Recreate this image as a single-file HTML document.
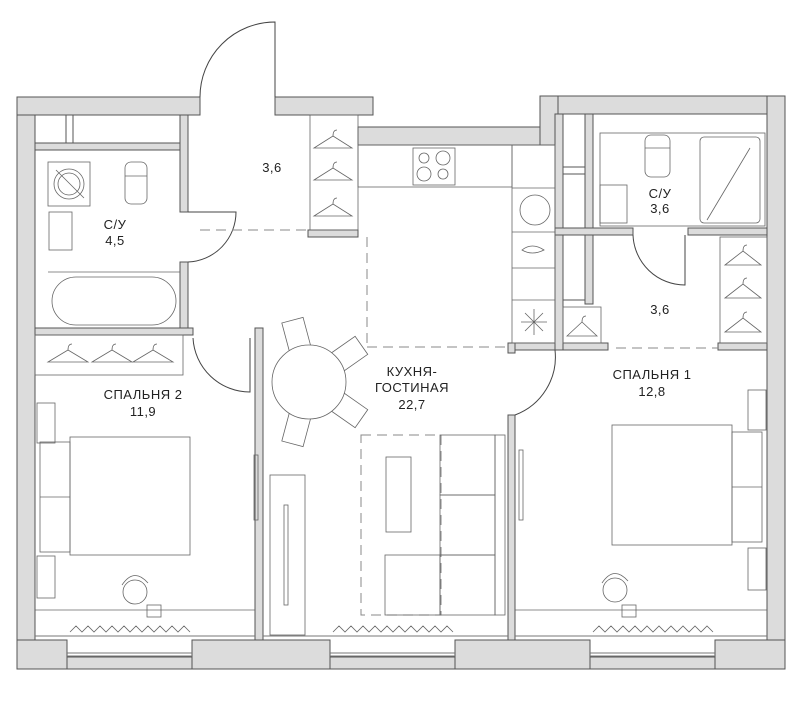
<!DOCTYPE html>
<html><head><meta charset="utf-8"><style>
html,body{margin:0;padding:0;background:#fff;}
svg{display:block}
text{font-family:"Liberation Sans",sans-serif;font-size:13px;fill:#222;text-anchor:middle;letter-spacing:0.5px}
</style></head><body>
<svg width="800" height="701" viewBox="0 0 800 701" xmlns="http://www.w3.org/2000/svg">
<g fill="#dcdcdc" stroke="#555" stroke-width="1">
<rect x="17" y="97" width="18" height="572"/>
<rect x="17" y="97" width="183" height="18"/>
<rect x="275" y="97" width="98" height="18"/>
<rect x="358" y="127" width="200" height="18"/>
<rect x="540" y="96" width="245" height="18"/>
<rect x="540" y="96" width="18" height="49"/>
<rect x="767" y="96" width="18" height="573"/>
<rect x="17" y="640" width="50" height="29"/>
<rect x="192" y="640" width="138" height="29"/>
<rect x="455" y="640" width="135" height="29"/>
<rect x="715" y="640" width="70" height="29"/>
<rect x="67" y="657" width="125" height="12"/>
<rect x="330" y="657" width="125" height="12"/>
<rect x="590" y="657" width="125" height="12"/>
<rect x="35" y="143" width="150" height="7"/>
<rect x="180" y="115" width="8" height="97"/>
<rect x="180" y="262" width="8" height="73"/>
<rect x="35" y="328" width="158" height="7"/>
<rect x="255" y="328" width="8" height="312"/>
<rect x="508" y="343" width="100" height="7"/>
<rect x="508" y="343" width="7" height="10"/>
<rect x="508" y="415" width="7" height="225"/>
<rect x="555" y="114" width="8" height="236"/>
<rect x="585" y="114" width="8" height="190"/>
<rect x="555" y="228" width="78" height="7"/>
<rect x="688" y="228" width="79" height="7"/>
<rect x="718" y="343" width="49" height="7"/>
<rect x="308" y="230" width="50" height="7"/>
</g>
<g fill="#fff" stroke="#555" stroke-width="1">
<rect x="35" y="115" width="31" height="28"/>
<rect x="73" y="115" width="107" height="28"/>
<rect x="563" y="114" width="22" height="53"/>
<rect x="563" y="174" width="22" height="54"/>
<rect x="563" y="235" width="22" height="65"/>
</g>
<g stroke="#777" stroke-width="1">
<line x1="67" y1="653" x2="192" y2="653"/><line x1="67" y1="656" x2="192" y2="656"/>
<line x1="330" y1="653" x2="455" y2="653"/><line x1="330" y1="656" x2="455" y2="656"/>
<line x1="590" y1="653" x2="715" y2="653"/><line x1="590" y1="656" x2="715" y2="656"/>
<line x1="35" y1="636" x2="255" y2="636"/>
<line x1="263" y1="636" x2="508" y2="636"/>
<line x1="515" y1="636" x2="767" y2="636"/>
</g>
<g fill="none" stroke="#444" stroke-width="1">
<path d="M275 97 L275 22 A75 75 0 0 0 200 97"/>
<path d="M188 212 L236 212 A50 50 0 0 1 188 262"/>
<path d="M193 338 A57 57 0 0 0 250 392 L250 338"/>
<path d="M633 235 A52 52 0 0 0 685 285 L685 235"/>
<path d="M555 350 A62 62 0 0 1 515 415"/>
<g stroke="#888" stroke-dasharray="10,6">
<line x1="200" y1="230" x2="308" y2="230"/>
<line x1="367" y1="237" x2="367" y2="345"/>
<line x1="367" y1="347" x2="508" y2="347"/>
<line x1="616" y1="348" x2="718" y2="348"/>
<rect x="361" y="435" width="80" height="180"/>
</g>
</g>
<g fill="none" stroke="#666" stroke-width="0.8">
<rect x="48" y="162" width="42" height="44"/>
<circle cx="69" cy="184" r="15"/><circle cx="69" cy="184" r="11"/>
<line x1="56" y1="170" x2="84" y2="198"/>
<rect x="125" y="162" width="22" height="42" rx="6"/>
<line x1="125" y1="176" x2="147" y2="176"/>
<rect x="49" y="212" width="23" height="38"/>
<rect x="52" y="277" width="124" height="48" rx="24"/>
<line x1="48" y1="272" x2="180" y2="272"/>
<rect x="35" y="335" width="148" height="40"/>
<path d="M48 362 L68 350 L88 362 Z M68 350 q0 -6 4 -6"/>
<path d="M92 362 L112 350 L132 362 Z M112 350 q0 -6 4 -6"/>
<path d="M133 362 L153 350 L173 362 Z M153 350 q0 -6 4 -6"/>
<path d="M314 148 L333 136 L352 148 Z M333 136 q0 -6 4 -6"/>
<path d="M314 180 L333 168 L352 180 Z M333 168 q0 -6 4 -6"/>
<path d="M314 216 L333 204 L352 216 Z M333 204 q0 -6 4 -6"/>
<rect x="310" y="115" width="48" height="115"/>
<rect x="358" y="145" width="154" height="42"/>
<rect x="413" y="148" width="42" height="37"/>
<circle cx="424" cy="158" r="5"/><circle cx="443" cy="158" r="7"/>
<circle cx="424" cy="174" r="7"/><circle cx="443" cy="174" r="5"/>
<rect x="512" y="145" width="43" height="198"/>
<line x1="512" y1="188" x2="555" y2="188"/>
<line x1="512" y1="232" x2="555" y2="232"/>
<line x1="512" y1="268" x2="555" y2="268"/>
<line x1="512" y1="300" x2="555" y2="300"/>
<circle cx="535" cy="210" r="15"/>
<path d="M522 250 q10 -8 22 0 q-12 6 -22 0Z"/>
<path d="M521 322 h26 M534 309 v26 M525 313 l18 18 M543 313 l-18 18"/>
<rect x="563" y="307" width="38" height="36"/>
<path d="M567 336 L582 322 L597 336 Z M582 322 q0 -6 4 -6"/>
<rect x="600" y="133" width="165" height="93"/>
<rect x="700" y="137" width="60" height="86" rx="4"/>
<line x1="707" y1="220" x2="750" y2="148"/>
<rect x="645" y="135" width="25" height="42" rx="6"/>
<line x1="645" y1="148" x2="670" y2="148"/>
<rect x="600" y="185" width="27" height="38"/>
<rect x="720" y="237" width="47" height="106"/>
<path d="M725 265 L743 251 L761 265 Z M743 251 q0 -6 4 -6"/>
<path d="M725 298 L743 284 L761 298 Z M743 284 q0 -6 4 -6"/>
<path d="M725 332 L743 318 L761 332 Z M743 318 q0 -6 4 -6"/>
<g transform="translate(309 382)" fill="#fff">
<rect x="-11" y="-64" width="22" height="30" transform="rotate(-15)"/>
<rect x="-11" y="-64" width="22" height="30" transform="rotate(55)"/>
<rect x="-11" y="-64" width="22" height="30" transform="rotate(125)"/>
<rect x="-11" y="-64" width="22" height="30" transform="rotate(195)"/>
</g>
<circle cx="309" cy="382" r="37" fill="#fff"/>
<rect x="254" y="455" width="4" height="65"/>
<rect x="519" y="450" width="4" height="70"/>
<rect x="270" y="475" width="35" height="160"/>
<rect x="284" y="505" width="4" height="100"/>
<rect x="386" y="457" width="25" height="75"/>
<rect x="440" y="435" width="55" height="60"/>
<rect x="440" y="495" width="55" height="60"/>
<rect x="440" y="555" width="55" height="60"/>
<rect x="385" y="555" width="55" height="60"/>
<rect x="495" y="435" width="10" height="180"/>
<rect x="40" y="442" width="30" height="110"/>
<line x1="40" y1="497" x2="70" y2="497"/>
<rect x="70" y="437" width="120" height="118"/>
<rect x="37" y="403" width="18" height="40"/>
<rect x="37" y="556" width="18" height="42"/>
<circle cx="135" cy="592" r="12"/>
<path d="M122 585 q12 -18 26 -2"/>
<rect x="147" y="605" width="14" height="12"/>
<line x1="35" y1="610" x2="255" y2="610"/>
<rect x="732" y="432" width="30" height="110"/>
<line x1="732" y1="487" x2="762" y2="487"/>
<rect x="612" y="425" width="120" height="120"/>
<rect x="748" y="390" width="18" height="40"/>
<rect x="748" y="548" width="18" height="42"/>
<circle cx="615" cy="590" r="12"/>
<path d="M602 583 q12 -18 26 -2"/>
<rect x="622" y="605" width="14" height="12"/>
<line x1="515" y1="610" x2="767" y2="610"/>
<path d="M70 632 l6 -6 l6 6 l6 -6 l6 6 l6 -6 l6 6 l6 -6 l6 6 l6 -6 l6 6 l6 -6 l6 6 l6 -6 l6 6 l6 -6 l6 6 l6 -6 l6 6 l6 -6 l6 6"/>
<path d="M333 632 l6 -6 l6 6 l6 -6 l6 6 l6 -6 l6 6 l6 -6 l6 6 l6 -6 l6 6 l6 -6 l6 6 l6 -6 l6 6 l6 -6 l6 6 l6 -6 l6 6 l6 -6 l6 6"/>
<path d="M593 632 l6 -6 l6 6 l6 -6 l6 6 l6 -6 l6 6 l6 -6 l6 6 l6 -6 l6 6 l6 -6 l6 6 l6 -6 l6 6 l6 -6 l6 6 l6 -6 l6 6 l6 -6 l6 6"/>
</g>
<text x="272" y="172">3,6</text>
<text x="115" y="229">С/У</text>
<text x="115" y="245">4,5</text>
<text x="660" y="198">С/У</text>
<text x="660" y="213">3,6</text>
<text x="660" y="314">3,6</text>
<text x="143" y="399">СПАЛЬНЯ 2</text>
<text x="143" y="416">11,9</text>
<text x="412" y="376">КУХНЯ-</text>
<text x="412" y="392">ГОСТИНАЯ</text>
<text x="412" y="409">22,7</text>
<text x="652" y="379">СПАЛЬНЯ 1</text>
<text x="652" y="396">12,8</text>
</svg>
</body></html>
